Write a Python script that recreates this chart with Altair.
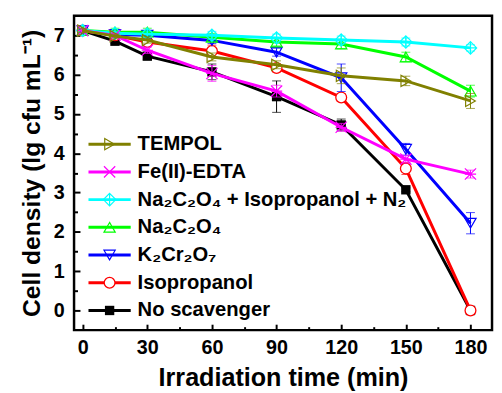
import altair as alt
import pandas as pd

times = [0, 15, 30, 60, 90, 120, 150, 180]
names = ["TEMPOL", "Fe(II)-EDTA", "Na₂C₂O₄ + Isopropanol + N₂", "Na₂C₂O₄",
         "K₂Cr₂O₇", "Isopropanol", "No scavenger"]

tempol = [7.12, 6.98, 6.88, 6.45, 6.25, 5.97, 5.84, 5.33]
fe_edta = [7.12, 7.00, 6.62, 6.03, 5.58, 4.66, 3.85, 3.47]
na_iso_n2 = [7.12, 7.05, 7.03, 7.00, 6.93, 6.88, 6.83, 6.68]
na2c2o4 = [7.12, 7.08, 7.08, 6.95, 6.83, 6.78, 6.45, 5.58]
k2cr2o7 = [7.12, 7.02, 7.00, 6.87, 6.57, 5.92, 4.10, 2.22]
isopropanol = [7.12, 7.00, 6.83, 6.60, 6.17, 5.42, 3.61, 0.00]
no_scav = [7.12, 6.85, 6.47, 6.07, 5.44, 4.72, 3.07, 0.00]

tempol_err = [0.05, 0.05, 0.08, 0.10, 0.10, 0.20, 0.12, 0.19]
fe_err = [0.05, 0.05, 0.08, 0.20, 0.15, 0.10, 0.10, 0.10]
na_iso_err = [0.05, 0.05, 0.08, 0.10, 0.10, 0.10, 0.10, 0.08]
na_err = [0.05, 0.10, 0.10, 0.10, 0.10, 0.12, 0.12, 0.15]
k_err = [0.05, 0.05, 0.08, 0.08, 0.10, 0.35, 0.15, 0.27]
iso_err = [0.05, 0.05, 0.08, 0.15, 0.10, 0.10, 0.15, 0.05]
no_err = [0.05, 0.05, 0.08, 0.20, 0.40, 0.15, 0.05, 0.05]

values = [tempol, fe_edta, na_iso_n2, na2c2o4, k2cr2o7, isopropanol, no_scav]
errors = [tempol_err, fe_err, na_iso_err, na_err, k_err, iso_err, no_err]
colors = ["#808000", "#ff00ff", "#00ffff", "#00ff00", "#0000ff", "#ff0000", "#000000"]
X_PATH = "M-1,-1L1,1M-1,1L1,-1M-1,0L1,0"
DIAMOND_PATH = "M0,-1.1L1.1,0L0,1.1L-1.1,0ZM0,-1.1L0,1.1M-1.1,0L1.1,0"
shapes = ["triangle-right", X_PATH, DIAMOND_PATH, "triangle-up", "triangle-down", "circle", "square"]
sizes = [130, 130, 130, 130, 130, 120, 90]

x_major = [0, 30, 60, 90, 120, 150, 180]
x_minor = [15, 45, 75, 105, 135, 165]
y_major = [0, 1, 2, 3, 4, 5, 6, 7]
y_minor = [0.5, 1.5, 2.5, 3.5, 4.5, 5.5, 6.5]

FONT = "Liberation Sans"
W, H = 424, 319
xs = alt.Scale(domain=[-4, 190], nice=False, zero=False)
ys = alt.Scale(domain=[-0.5, 7.5], nice=False, zero=False)

# legend layout (in data units)
leg_top, leg_step = 4.23, 0.705
leg_x1, leg_x2, leg_xm, leg_xt = 2.7, 22.3, 12.5, 25.5


def X(field, axis=None):
    return alt.X(field, type="quantitative", scale=xs, axis=axis)


def Y(field, axis=None):
    return alt.Y(field, type="quantitative", scale=ys, axis=axis)


main_x_axis = alt.Axis(values=x_major, title="Irradiation time (min)", grid=False,
                       tickSize=0, domain=False, labelFont=FONT, labelFontSize=20,
                       labelFontWeight="bold", labelColor="black", labelPadding=8,
                       titleFont=FONT, titleFontSize=25.5, titleFontWeight="bold",
                       titleColor="black", titlePadding=8, labelFlush=False)
main_y_axis = alt.Axis(values=y_major, title="Cell density (lg cfu mL⁻¹)", grid=False,
                       tickSize=0, domain=False, labelFont=FONT, labelFontSize=20,
                       labelFontWeight="bold", labelColor="black", labelPadding=10,
                       titleFont=FONT, titleFontSize=25, titleFontWeight="bold",
                       titleColor="black", titlePadding=9)

layers = []
first = True
for i in reversed(range(len(names))):
    c = colors[i]
    df = pd.DataFrame({"t": times, "v": values[i]})
    df["lo"] = [v - e for v, e in zip(values[i], errors[i])]
    df["hi"] = [v + e for v, e in zip(values[i], errors[i])]
    base = alt.Chart(df)
    if first:
        line = base.mark_line(color=c, strokeWidth=3).encode(
            x=X("t", main_x_axis), y=Y("v", main_y_axis))
        first = False
    else:
        line = base.mark_line(color=c, strokeWidth=3).encode(x=X("t"), y=Y("v"))
    rule = base.mark_rule(color=c, strokeWidth=1).encode(x=X("t"), y=Y("lo"), y2="hi")
    cap_lo = base.mark_tick(color=c, thickness=1, size=9, orient="horizontal").encode(x=X("t"), y=Y("lo"))
    cap_hi = base.mark_tick(color=c, thickness=1, size=9, orient="horizontal").encode(x=X("t"), y=Y("hi"))
    if shapes[i] == "square":
        pmark = dict(shape="square", filled=True, color=c, opacity=1, size=sizes[i])
    elif shapes[i] == "circle":
        pmark = dict(shape="circle", filled=True, fill="white", stroke=c, strokeWidth=1.3,
                     opacity=1, size=sizes[i])
    else:
        pmark = dict(shape=shapes[i], filled=False, color=c, strokeWidth=1.2, opacity=1,
                     size=sizes[i])
    pts = base.mark_point(**pmark).encode(x=X("t"), y=Y("v"))

    ly = leg_top - leg_step * i
    ldf = pd.DataFrame({"x1": [leg_x1], "x2": [leg_x2], "xm": [leg_xm], "xt": [leg_xt],
                        "y": [ly], "name": [names[i]]})
    lbase = alt.Chart(ldf)
    lline = lbase.mark_rule(color=c, strokeWidth=3).encode(x=X("x1"), x2="x2", y=Y("y"))
    lpt = lbase.mark_point(**pmark).encode(x=X("xm"), y=Y("y"))
    ltxt = lbase.mark_text(align="left", baseline="middle", font=FONT, fontSize=20.5,
                           fontWeight="bold", color="black").encode(
        x=X("xt"), y=Y("y"), text="name:N")
    layers += [line, rule, cap_lo, cap_hi, pts, lline, lpt, ltxt]

# inward ticks
tdf = pd.DataFrame({"t": times, "v": no_scav})
tick_style = dict(labels=False, domain=False, grid=False, title=None, tickColor="black",
                  tickWidth=2)
layers.append(alt.Chart(tdf).mark_point(opacity=0).encode(
    x=X("t", alt.Axis(orient="top", offset=-H, values=x_major, tickSize=6, **tick_style)),
    y=Y("v")))
layers.append(alt.Chart(tdf).mark_point(opacity=0).encode(
    x=X("t", alt.Axis(orient="top", offset=-H, values=x_minor, tickSize=3.5, **tick_style)),
    y=Y("v")))
layers.append(alt.Chart(tdf).mark_point(opacity=0).encode(
    x=X("t"),
    y=Y("v", alt.Axis(orient="right", offset=-W, values=y_major, tickSize=6, **tick_style))))
layers.append(alt.Chart(tdf).mark_point(opacity=0).encode(
    x=X("t"),
    y=Y("v", alt.Axis(orient="right", offset=-W, values=y_minor, tickSize=3.5, **tick_style))))

chart = alt.layer(*layers).resolve_axis(x="independent", y="independent").properties(
    width=W, height=H,
    autosize=alt.AutoSizeParams(type="none"),
    padding={"left": 67, "top": 5, "right": 2, "bottom": 60},
    background="white",
).configure_view(stroke="black", strokeWidth=2.5)

chart.save("out.html", embed_options={"renderer": "svg", "actions": False})
